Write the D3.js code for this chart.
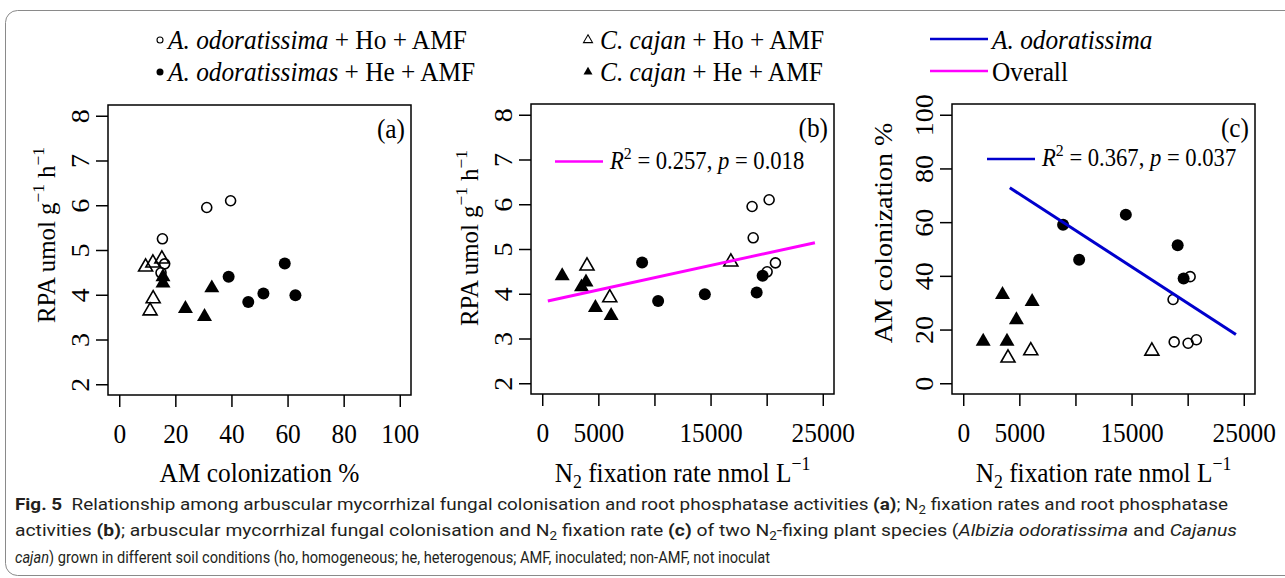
<!DOCTYPE html>
<html>
<head>
<meta charset="utf-8">
<script src="https://cdn.jsdelivr.net/npm/d3@7"></script>
<style>
body { margin:0; background:#fff; }
</style>
</head>
<body>
<div id="chart-area"></div>
<script>
// values, one entry per plant (same order in each array)
var aoHoAM  = [31.2, 39.7, 15.4, 16.2, 14.9];
var aoHoN2  = [18700, 20220, 18800, 20780, 20040];
var aoHoRPA = [5.95, 6.10, 5.25, 4.69, 4.49];

var aoHeAM  = [59.0, 46.0, 62.8, 51.4, 39.0];
var aoHeN2  = [8900, 10330, 14490, 19110, 19640];
var aoHeRPA = [4.70, 3.84, 3.99, 4.03, 4.40];

var ccHoAM  = [9.4, 12.0, 15.2, 12.1, 11.0];
var ccHoN2  = [3990, 16810, null, 6020, null];   // two plants have no N2 value
var ccHoRPA = [4.62, 4.71, 4.80, 3.91, 3.64];

var ccHeAM  = [15.6, 15.6, 33.0, 23.6, 30.4];
var ccHeN2  = [1780, 3900, 3500, 4740, 6140];
var ccHeRPA = [4.40, 4.26, 4.15, 3.69, 3.51];

// regression lines, start and end
var overallFitN2  = [500, 24300];
var overallFitRPA = [3.84, 5.14];
var aoFitN2 = [4150, 24300];
var aoFitAM = [72.8, 18.2];

var amTicks = [0, 20, 40, 60, 80, 100];
var amTickLabels = ["0", "20", "40", "60", "80", "100"];
var n2Ticks = [0, 5000, 10000, 15000, 20000, 25000];
var n2TickLabels = ["0", "5000", "", "15000", "", "25000"];
var rpaTicks = [2, 3, 4, 5, 6, 7, 8];
var rpaTickLabels = ["2", "3", "4", "5", "6", "7", "8"];
var amYTicks = [0, 20, 40, 60, 80, 100];
var amYTickLabels = ["0", "20", "40", "60", "80", "100"];

var legendLabels = [
	[["A. odoratissima","i"],[" + Ho + AMF",""]],
	[["A. odoratissimas","i"],[" + He + AMF",""]],
	[["C. cajan","i"],[" + Ho + AMF",""]],
	[["C. cajan","i"],[" + He + AMF",""]]
];
var lineLabels = [[["A. odoratissima","i"]], [["Overall",""]]];

var captionLines = [
	[["Fig. 5","b"],["\u00a0 Relationship among arbuscular mycorrhizal fungal colonisation and root phosphatase activities ",""],["(a)","b"],["; N",""],["2","sub"],[" fixation rates and root phosphatase",""]],
	[["activities ",""],["(b)","b"],["; arbuscular mycorrhizal fungal colonisation and N",""],["2","sub"],[" fixation rate ",""],["(c)","b"],[" of two N",""],["2","sub"],["-fixing plant species (",""],["Albizia odoratissima","i"],[" and ",""],["Cajanus","i"]],
	[["cajan","i"],[") grown in different soil conditions (ho, homogeneous; he, heterogenous; AMF, inoculated; non-AMF, not inoculat",""]]
];

var titles = {
	am: [["AM colonization %",""]],
	n2: [["N",""],["2","sub"],[" fixation rate nmol L",""],["\u22121","sup"]],
	rpa: [["RPA umol g",""],["\u22121","sup"],[" h",""],["\u22121","sup"]]
};

var K = 0.905;   // the figure is squeezed a little sideways
var serif = "'Liberation Serif', 'Times New Roman', serif";

var svg = d3.select("#chart-area")
	.append("svg")
		.attr("width", 1285)
		.attr("height", 578);

// frame round the whole figure
svg.append("rect")
	.attr("x", 5.5).attr("y", 10.5)
	.attr("width", 1300).attr("height", 565)
	.attr("rx", 12)
	.attr("fill", "none")
	.attr("stroke", "#8a8a8a")
	.attr("stroke-width", 1);

function rich(t, parts, size) {
	var shift = 0;
	parts.forEach(function(p){
		var s = t.append("tspan").text(p[0]);
		var want = p[1] == "sup" ? -0.42 * size : (p[1] == "sub" ? 0.22 * size : 0);
		if (want != shift) { s.attr("dy", want - shift); shift = want; }
		if (p[1] == "sup" || p[1] == "sub") s.attr("font-size", size * 0.7);
		if (p[1] == "i") s.attr("font-style", "italic");
		if (p[1] == "b") s.attr("font-weight", "bold");
	});
	return t;
}

function hText(x, y, size) {
	return svg.append("text")
		.attr("transform", "translate(" + x + "," + y + ") scale(" + K + ",1)")
		.attr("font-family", serif)
		.attr("font-size", size)
		.attr("fill", "#000");
}

function vText(x, y, size) {
	return svg.append("text")
		.attr("transform", "translate(" + x + "," + y + ") rotate(-90) scale(1," + K + ")")
		.attr("font-family", serif)
		.attr("font-size", size)
		.attr("text-anchor", "middle")
		.attr("fill", "#000");
}

var groups = [
	{am: aoHoAM, n2: aoHoN2, rpa: aoHoRPA, shape: "circle", solid: false},
	{am: aoHeAM, n2: aoHeN2, rpa: aoHeRPA, shape: "circle", solid: true},
	{am: ccHoAM, n2: ccHoN2, rpa: ccHoRPA, shape: "triangle", solid: false},
	{am: ccHeAM, n2: ccHeN2, rpa: ccHeRPA, shape: "triangle", solid: true}
];

function symbolFor(gr, small) {
	var s;
	if (gr.shape == "circle") {
		var r = small ? (gr.solid ? 3.5 : 3) : (gr.solid ? 6 : 5);
		s = d3.symbol().type(d3.symbolCircle).size(Math.PI * r * r);
	} else {
		var side = small ? 9 : (gr.solid ? 15 : 14);
		s = d3.symbol().type(d3.symbolTriangle).size(Math.sqrt(3) / 4 * side * side);
	}
	return s;
}

var panels = [
	{tag: "(a)", left: 108, top: 105, xKey: "am", yKey: "rpa", xDom: [0, 100], yDom: [2, 8],
	 xTicks: amTicks, xLabels: amTickLabels, yTicks: rpaTicks, yLabels: rpaTickLabels,
	 yTitleX: 55, yTitleY: 235},
	{tag: "(b)", left: 531, top: 104, xKey: "n2", yKey: "rpa", xDom: [0, 25000], yDom: [2, 8],
	 xTicks: n2Ticks, xLabels: n2TickLabels, yTicks: rpaTicks, yLabels: rpaTickLabels,
	 yTitleX: 478, yTitleY: 238,
	 fit: {xs: overallFitN2, ys: overallFitRPA, color: "#ff00ff", r2: "0.257", p: "0.018",
	       lx: [555, 603], ly: 161.5, tx: 610, ty: 169}},
	{tag: "(c)", left: 952, top: 104, xKey: "n2", yKey: "am", xDom: [0, 25000], yDom: [0, 100],
	 xTicks: n2Ticks, xLabels: n2TickLabels, yTicks: amYTicks, yLabels: amYTickLabels,
	 yTitleX: 892, yTitleY: 233,
	 fit: {xs: aoFitN2, ys: aoFitAM, color: "#0000cd", r2: "0.367", p: "0.037",
	       lx: [987, 1035], ly: 159, tx: 1042, ty: 166}}
];

var W = 303, H = 290;

panels.forEach(function(p){
	var xPad = (p.xDom[1] - p.xDom[0]) * 0.04;
	var yPad = (p.yDom[1] - p.yDom[0]) * 0.04;
	var x = d3.scaleLinear()
		.domain([p.xDom[0] - xPad, p.xDom[1] + xPad])
		.range([p.left, p.left + W]);
	var y = d3.scaleLinear()
		.domain([p.yDom[0] - yPad, p.yDom[1] + yPad])
		.range([p.top + H, p.top]);

	var xAxis = svg.append("g")
		.attr("transform", "translate(0," + (p.top + H) + ")")
		.call(d3.axisBottom(x)
			.tickValues(p.xTicks)
			.tickFormat(function(d, i){ return p.xLabels[i]; })
			.tickSize(12)
			.tickSizeOuter(0));
	xAxis.select(".domain").remove();
	xAxis.selectAll("line").attr("stroke", "#000").attr("stroke-width", 1.5);
	xAxis.attr("font-family", serif).attr("font-size", 28);
	xAxis.selectAll("text")
		.attr("fill", "#000")
		.attr("y", null).attr("dy", null)
		.attr("transform", "translate(0,48) scale(" + K + ",1)");

	var yAxis = svg.append("g")
		.attr("transform", "translate(" + p.left + ",0)")
		.call(d3.axisLeft(y)
			.tickValues(p.yTicks)
			.tickFormat(function(d, i){ return p.yLabels[i]; })
			.tickSize(12)
			.tickSizeOuter(0));
	yAxis.select(".domain").remove();
	yAxis.selectAll("line").attr("stroke", "#000").attr("stroke-width", 1.5);
	yAxis.attr("font-family", serif).attr("font-size", 28);
	yAxis.selectAll("text")
		.attr("fill", "#000")
		.attr("x", null).attr("dy", null)
		.attr("text-anchor", "middle")
		.attr("transform", "translate(-19,0) rotate(-90) scale(1," + K + ")");

	svg.append("rect")
		.attr("x", p.left).attr("y", p.top)
		.attr("width", W).attr("height", H)
		.attr("fill", "none")
		.attr("stroke", "#000")
		.attr("stroke-width", 1.5);

	groups.forEach(function(gr){
		var rows = gr.am.map(function(d, i){
			return {am: d, n2: gr.n2[i], rpa: gr.rpa[i]};
		}).filter(function(d){
			return d[p.xKey] != null && d[p.yKey] != null;
		});
		svg.append("g").selectAll("path")
			.data(rows)
			.enter()
			.append("path")
				.attr("transform", function(d){
					return "translate(" + x(d[p.xKey]) + "," + y(d[p.yKey]) + ")";
				})
				.attr("d", symbolFor(gr, false))
				.attr("fill", gr.solid ? "#000" : "none")
				.attr("stroke", gr.solid ? "none" : "#000")
				.attr("stroke-width", 1.6);
	});

	if (p.fit) {
		var pts = p.fit.xs.map(function(d, i){ return [d, p.fit.ys[i]]; });
		svg.append("path")
			.attr("d", d3.line().x(function(d){ return x(d[0]); }).y(function(d){ return y(d[1]); })(pts))
			.attr("fill", "none")
			.attr("stroke", p.fit.color)
			.attr("stroke-width", 3);

		svg.append("line")
			.attr("x1", p.fit.lx[0]).attr("x2", p.fit.lx[1])
			.attr("y1", p.fit.ly).attr("y2", p.fit.ly)
			.attr("stroke", p.fit.color)
			.attr("stroke-width", 2.5);
		rich(hText(p.fit.tx, p.fit.ty, 25),
			[["R","i"],["2","sup"],[" = " + p.fit.r2 + ", ",""],["p","i"],[" = " + p.fit.p,""]], 25);
	}

	hText(p.left + W - 6, p.top + 33, 28)
		.attr("text-anchor", "end")
		.text(p.tag);

	rich(hText(p.left + W / 2, 482, 28).attr("text-anchor", "middle"), titles[p.xKey], 28);
	var yt = rich(vText(p.yTitleX, p.yTitleY, 28), titles[p.yKey], 28);
	// the RPA label is set tighter in the original
	if (p.yKey == "rpa") yt.attr("textLength", 176).attr("lengthAdjust", "spacingAndGlyphs");
});

// legend
var legendCols = [160, 588];
var legendRows = [40, 72];
groups.forEach(function(gr, i){
	var cx = legendCols[Math.floor(i / 2)], cy = legendRows[i % 2];
	svg.append("path")
		.attr("transform", "translate(" + cx + "," + cy + ")")
		.attr("d", symbolFor(gr, true))
		.attr("fill", gr.solid ? "#000" : "none")
		.attr("stroke", gr.solid ? "none" : "#000")
		.attr("stroke-width", 1.1);
	rich(hText(cx + (i < 2 ? 8 : 12), cy + 9, 28), legendLabels[i], 28);
});

var lineColors = ["#0000cd", "#ff00ff"];
lineLabels.forEach(function(lab, i){
	var cy = legendRows[i] - 1;
	svg.append("line")
		.attr("x1", 930).attr("x2", 988)
		.attr("y1", cy).attr("y2", cy)
		.attr("stroke", lineColors[i])
		.attr("stroke-width", 2.5);
	rich(hText(992, cy + 10, 28), lab, 28);
});

// caption
var captionY = [510, 536, 563];
var captionLen = [1213, 1222, 755];
captionLines.forEach(function(line, i){
	var t = svg.append("text")
		.attr("x", 15)
		.attr("y", captionY[i])
		.attr("font-family", "Roboto, 'Open Sans', sans-serif")
		.attr("font-size", 17)
		.attr("fill", "#231f20")
		.attr("textLength", captionLen[i])
		.attr("lengthAdjust", "spacingAndGlyphs");
	rich(t, line, 17);
});
</script>
</body>
</html>
